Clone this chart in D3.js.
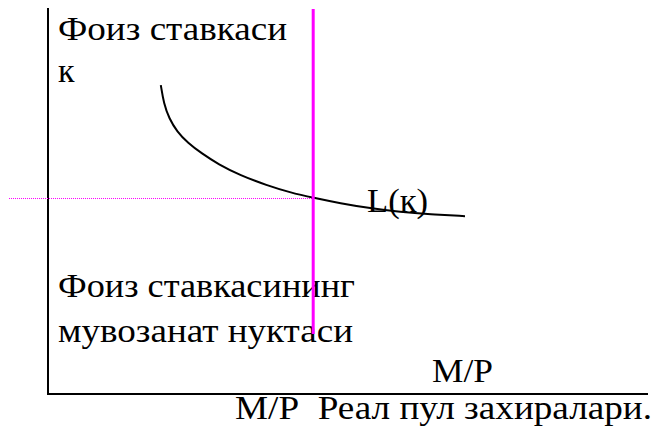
<!DOCTYPE html>
<html>
<head>
<meta charset="utf-8">
<script src="https://cdn.jsdelivr.net/npm/d3@7"></script>
</head>
<body style="margin:0">
<svg width="655" height="435"></svg>
<script>
// L(k) money demand curve, M/P on x, interest rate on y (0..100 units)
const curveX = [18.8, 19.3, 20.2, 21.5, 23.3, 25.6, 28.4, 32, 36.5, 40.3, 44.2, 48.7, 53.7, 58.7, 63.7, 69.5];
const curveY = [79.2, 74.5, 70.6, 67.3, 64.4, 61.7, 58.9, 56.1, 53.5, 51.7, 50.3, 48.9, 47.6, 46.7, 46.1, 45.6];

// money supply (vertical) and equilibrium rate (horizontal dotted)
const supplyX = 44.2;
const supplyRange = [15.4, 98.7];
const eqRate = 50.3;

const yTitle = ["Фоиз ставкаси", "к"];
const curveLabel = "L(к)";
const eqLabel = ["Фоиз ставкасининг", "мувозанат нуктаси"];
const xInner = "M/P";
const xTitle = "M/P\u00a0\u00a0Реал пул захиралари.";

const x = d3.scaleLinear().domain([0, 100]).range([48, 648]);
const y = d3.scaleLinear().domain([0, 100]).range([394, 4]);

const svg = d3.select("svg");

// text first, lines over it
const txt = (tx, ty, s, len) => {
  const t = svg.append("text")
    .attr("x", tx).attr("y", ty)
    .style("font-family", '"Liberation Serif", Tinos, serif')
    .style("font-size", "34px")
    .text(s);
  if (len) t.attr("textLength", len).attr("lengthAdjust", "spacingAndGlyphs");
  return t;
};
txt(58, 40, yTitle[0], 229);
txt(58, 82, yTitle[1]);
txt(367, 212, curveLabel, 61);
txt(58, 297, eqLabel[0], 297);
txt(58, 342, eqLabel[1], 295);
txt(432, 382, xInner, 61);
txt(235, 419, xTitle, 417);

// axes
svg.append("line")
  .attr("x1", x(0)).attr("x2", x(0))
  .attr("y1", y(99)).attr("y2", y(0) + 1)
  .attr("stroke", "#000").attr("stroke-width", 2);
svg.append("line")
  .attr("x1", x(0) - 1).attr("x2", x(100))
  .attr("y1", y(0)).attr("y2", y(0))
  .attr("stroke", "#000").attr("stroke-width", 2);

// dotted equilibrium line
const ey = Math.round(y(eqRate)) + 0.5;
svg.append("line")
  .attr("x1", x(-6.5)).attr("x2", x(supplyX))
  .attr("y1", ey).attr("y2", ey)
  .attr("stroke", "#ff00ff").attr("stroke-width", 1)
  .attr("stroke-dasharray", "1,1");

// L(k) curve
const pts = curveX.map((d, i) => [d, curveY[i]]);
const line = d3.line()
  .x(d => x(d[0]))
  .y(d => y(d[1]))
  .curve(d3.curveBasis);
svg.append("path")
  .attr("d", line(pts))
  .attr("fill", "none")
  .attr("stroke", "#000")
  .attr("stroke-width", 2);

// money supply line
svg.append("line")
  .attr("x1", x(supplyX)).attr("x2", x(supplyX))
  .attr("y1", y(supplyRange[1])).attr("y2", y(supplyRange[0]))
  .attr("stroke", "#ff00ff").attr("stroke-width", 3);
</script>
</body>
</html>
